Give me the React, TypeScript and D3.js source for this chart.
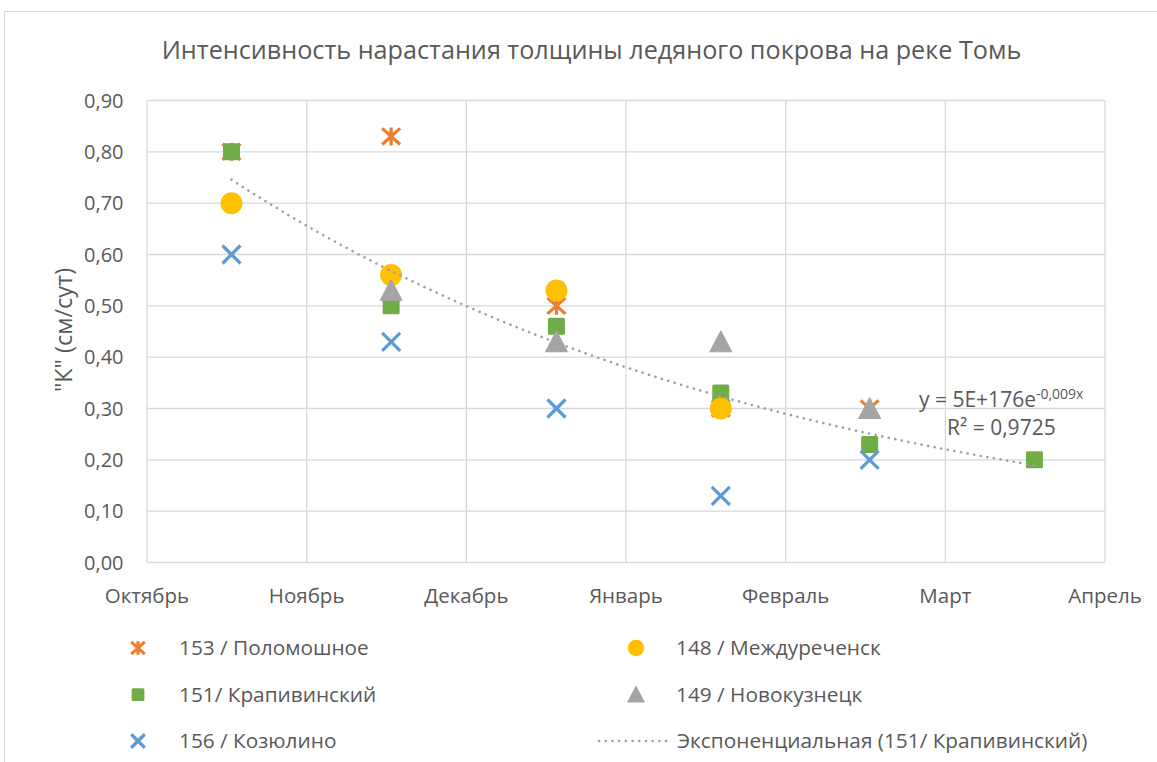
import React from "react";
import * as d3 from "d3";

// x values: days since 1 October
const sampleDays = [16.4, 47.4, 79.5, 111.4, 140.3, 172.3];
const monthTicks = ["Октябрь", "Ноябрь", "Декабрь", "Январь", "Февраль", "Март", "Апрель"];
const yTicks = [0, 0.1, 0.2, 0.3, 0.4, 0.5, 0.6, 0.7, 0.8, 0.9];

const polomoshnoe = [0.8, 0.83, 0.5, 0.3, 0.3, null];
const mezhdurechensk = [0.7, 0.56, 0.53, 0.3, null, null];
const krapivinsky = [0.8, 0.5, 0.46, 0.33, 0.23, 0.2];
const novokuznetsk = [null, 0.53, 0.43, 0.43, 0.3, null];
const kozyulino = [0.6, 0.43, 0.3, 0.13, 0.2, null];

const title = "Интенсивность нарастания толщины ледяного покрова на реке Томь";
const yTitle = '"К" (см/сут)';
const trendName = "Экспоненциальная (151/ Крапивинский)";

type Shape = "star" | "circle" | "square" | "triangle" | "x";
const series: { name: string; values: (number | null)[]; color: string; shape: Shape }[] = [
  { name: "153 / Поломошное", values: polomoshnoe, color: "#ED7D31", shape: "star" },
  { name: "151/ Крапивинский", values: krapivinsky, color: "#70AD47", shape: "square" },
  { name: "148 / Междуреченск", values: mezhdurechensk, color: "#FFC000", shape: "circle" },
  { name: "149 / Новокузнецк", values: novokuznetsk, color: "#A5A5A5", shape: "triangle" },
  { name: "156 / Козюлино", values: kozyulino, color: "#5B9BD5", shape: "x" },
];
const legendOrder = [0, 2, 1, 3, 4];

const FONT = "'Open Sans', 'Noto Sans', sans-serif";
const TXT = "#595959";

function Marker({ shape, color, x, y, k = 1 }: { shape: Shape; color: string; x: number; y: number; k?: number }) {
  if (shape === "circle") return <circle cx={x} cy={y} r={11 * k} fill={color} />;
  if (shape === "square") {
    const h = 8.5 * k;
    return <rect x={x - h} y={y - h} width={2 * h} height={2 * h} rx={1.5} fill={color} />;
  }
  if (shape === "triangle")
    return (
      <path
        d={`M${x},${y - 11 * k}L${x + 11 * k},${y + 10 * k}L${x - 11 * k},${y + 10 * k}Z`}
        fill={color}
        stroke={color}
        strokeWidth={1}
        strokeLinejoin="round"
      />
    );
  const s = 9 * k;
  if (shape === "x")
    return <path d={`M${x - s},${y - s}L${x + s},${y + s}M${x + s},${y - s}L${x - s},${y + s}`} stroke={color} strokeWidth={3.2} />;
  return (
    <path
      d={`M${x - s},${y - s * 0.9}L${x + s},${y + s * 0.9}M${x + s},${y - s * 0.9}L${x - s},${y + s * 0.9}M${x},${y - s}L${x},${y + s}`}
      stroke={color}
      strokeWidth={3.2}
    />
  );
}

export default function App() {
  const W = 1157, H = 762;
  const x = d3.scaleLinear().domain([0, 186]).range([147, 1105]);
  const y = d3.scaleLinear().domain([0, 0.9]).range([562.5, 100.5]);

  // exponential least-squares fit of green series
  const pts = sampleDays
    .map((d, i) => [d, krapivinsky[i]] as [number, number | null])
    .filter((p) => p[1] != null) as [number, number][];
  const lx = pts.map((p) => p[0]);
  const ly = pts.map((p) => Math.log(p[1]));
  const mx = d3.mean(lx)!, my = d3.mean(ly)!;
  const b = d3.sum(lx.map((v, i) => (v - mx) * (ly[i] - my))) / d3.sum(lx.map((v) => (v - mx) ** 2));
  const a = my - b * mx;
  const x0 = d3.min(lx)!, x1 = d3.max(lx)!;
  const trendPts = d3.range(0, 101).map((i) => {
    const xv = x0 + ((x1 - x0) * i) / 100;
    return [xv, Math.exp(a + b * xv)] as [number, number];
  });
  const line = d3.line<[number, number]>().x((d) => x(d[0])).y((d) => y(d[1]));

  return (
    <svg width={W} height={H} style={{ display: "block", position: "absolute", left: 0, top: 0 }} fontFamily={FONT}>
      <rect x={0} y={0} width={W} height={H} fill="#fff" />
      <rect x={4.5} y={11.5} width={W + 10} height={H + 10} fill="none" stroke="#D9D9D9" strokeWidth={1} />
      <text x={591.5} y={58.5} textAnchor="middle" fontSize={25.2} fill={TXT}>{title}</text>

      {yTicks.map((t) => (
        <g key={t}>
          <line x1={147} x2={1105} y1={y(t)} y2={y(t)} stroke="#D9D9D9" strokeWidth={1.3} />
          <text x={123.5} y={y(t) + 7} textAnchor="end" fontSize={20} fill={TXT}>
            {d3.format(".2f")(t).replace(".", ",")}
          </text>
        </g>
      ))}
      {monthTicks.map((m, i) => (
        <g key={m}>
          <line x1={x(i * 31)} x2={x(i * 31)} y1={100.5} y2={562.5} stroke="#D9D9D9" strokeWidth={1.3} />
          <text x={x(i * 31)} y={602.5} textAnchor="middle" fontSize={20.5} fill={TXT}>{m}</text>
        </g>
      ))}
      <text transform={`translate(72,330) rotate(-90)`} textAnchor="middle" fontSize={23.5} fill={TXT}>{yTitle}</text>

      {series.map((s) => (
        <g key={s.name}>
          {s.values.map((v, i) =>
            v == null ? null : <Marker key={i} shape={s.shape} color={s.color} x={x(sampleDays[i])} y={y(v)} />
          )}
        </g>
      ))}

      <path d={line(trendPts)!} fill="none" stroke="#A0A0A0" strokeWidth={2.6} strokeDasharray="0.1 6.6" strokeLinecap="round" />
      <text x={919} y={407} fontSize={21} fill={TXT}>
        y = 5E+176e<tspan dy={-8} fontSize={14}>-0,009x</tspan>
      </text>
      <text x={947} y={435} fontSize={21} fill={TXT}>R² = 0,9725</text>

      {legendOrder.map((si, k) => {
        const s = series[si];
        const col = k % 2, row = Math.floor(k / 2);
        const mx0 = col === 0 ? 138 : 636;
        const cy = 648 + row * 46.5;
        return (
          <g key={s.name}>
            <Marker shape={s.shape} color={s.color} x={mx0} y={cy} k={0.75} />
            <text x={col === 0 ? 179 : 676} y={cy + 7} fontSize={20.8} fill={TXT}>{s.name}</text>
          </g>
        );
      })}
      <line x1={599} x2={667} y1={741} y2={741} stroke="#A0A0A0" strokeWidth={2.6} strokeDasharray="0.1 6.6" strokeLinecap="round" />
      <text x={677} y={748} fontSize={20.8} fill={TXT}>{trendName}</text>
    </svg>
  );
}
